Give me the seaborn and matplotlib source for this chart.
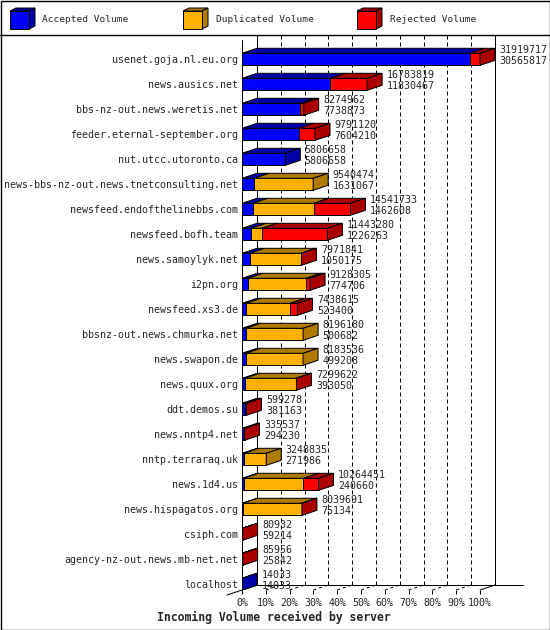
import matplotlib
matplotlib.use("Agg")
import matplotlib.pyplot as plt
from matplotlib.patches import Polygon, Rectangle
import numpy as np
import pandas as pd
import seaborn as sns

servers = ["usenet.goja.nl.eu.org", "news.ausics.net", "bbs-nz-out.news.weretis.net",
           "feeder.eternal-september.org", "nut.utcc.utoronto.ca",
           "news-bbs-nz-out.news.tnetconsulting.net", "newsfeed.endofthelinebbs.com",
           "newsfeed.bofh.team", "news.samoylyk.net", "i2pn.org", "newsfeed.xs3.de",
           "bbsnz-out.news.chmurka.net", "news.swapon.de", "news.quux.org", "ddt.demos.su",
           "news.nntp4.net", "nntp.terraraq.uk", "news.1d4.us", "news.hispagatos.org",
           "csiph.com", "agency-nz-out.news.mb-net.net", "localhost"]
total = [31919717, 16783819, 8274962, 9791120, 5806658, 9540474, 14541733, 11443280,
         7971841, 9128305, 7438615, 8196180, 8183536, 7299622, 599278, 335537, 3248835,
         10264451, 8039691, 80932, 85956, 14033]
accepted = [30565817, 11830467, 7738873, 7604210, 5806658, 1631067, 1462608, 1226263,
            1050175, 774706, 523400, 500682, 499208, 393050, 381163, 294230, 271986,
            240660, 75134, 59214, 25842, 14033]
duplicated = [0, 0, 0, 0, 0, 7909407, 8150000, 1420000, 6881666, 7813599, 5935215,
              7695498, 7684328, 6856572, 0, 0, 2976849, 8000000, 7924557, 0, 0, 0]
rejected = [1353900, 4953352, 536089, 2186910, 0, 0, 4929125, 8797017, 40000, 540000,
            980000, 0, 0, 50000, 218115, 41307, 0, 2023791, 40000, 21718, 60114, 0]
tick_labels = ["0%", "10%", "20%", "30%", "40%", "50%", "60%", "70%", "80%", "90%", "100%"]
legend_labels = ["Accepted Volume", "Duplicated Volume", "Rejected Volume"]

front_cols = ["#0000FF", "#FFB000", "#FF0000"]
dark_cols = ["#0000A8", "#B07C00", "#AA0000"]

FONT = "DejaVu Sans Mono"
FS = 7.2
LW = 0.72

sns.set_theme(style="white")
plt.rcParams["font.family"] = [FONT]

df = pd.DataFrame({"server": servers, "acc": accepted, "dup": duplicated, "rej": rejected,
                   "total": total})
df["c1"] = df["acc"]
df["c2"] = df["acc"] + df["dup"]
df["c3"] = df["acc"] + df["dup"] + df["rej"]

vmax = max(total)

fig = plt.figure(figsize=(5.5, 6.3), dpi=100)
fig.patch.set_facecolor("white")

# overlay axes in pixel coordinates
ov = fig.add_axes([0, 0, 1, 1], zorder=0)
ov.set_xlim(0, 550)
ov.set_ylim(630, 0)
ov.axis("off")
ov.add_patch(Rectangle((0.5, 0.5), 549, 629, fill=False, ec="black", lw=LW * 1.4))
ov.plot([0, 550], [35, 35], color="black", lw=LW * 1.4)

# legend cubes
leg_x = [10, 183, 357]
text_x = [42, 216, 390]
for k in range(3):
    x0 = leg_x[k]
    ov.add_patch(Polygon([(x0, 11), (x0 + 19, 11), (x0 + 25, 8), (x0 + 6, 8)],
                         closed=True, fc=dark_cols[k], ec="black", lw=LW))
    ov.add_patch(Polygon([(x0 + 19, 11), (x0 + 25, 8), (x0 + 25, 26), (x0 + 19, 29)],
                         closed=True, fc=dark_cols[k], ec="black", lw=LW))
    ov.add_patch(Rectangle((x0, 11), 19, 18, fc=front_cols[k], ec="black", lw=LW))
    ov.text(text_x[k], 20, legend_labels[k], fontsize=FS * 0.95, family=FONT,
            ha="left", va="center")

ov.text(274, 617, "Incoming Volume received by server", fontsize=8.3, family=FONT,
        weight="bold", ha="center", va="center")

# main axes
left_px, right_px, top_px, bot_px = 242, 523, 35, 590
ax = fig.add_axes([left_px / 550, (630 - bot_px) / 630, (right_px - left_px) / 550,
                   (bot_px - top_px) / 630], zorder=1)
ax.set_facecolor("none")

def px_x(p):
    return (p - 242) * vmax / 238.0

def px_y(p):
    return (p - 59.3) / 25.0

dx = 15 * vmax / 238.0
dy = 0.2
half = 0.24

# stacked front faces (overlay drawing)
for col, c in [("c3", front_cols[2]), ("c2", front_cols[1]), ("c1", front_cols[0])]:
    sns.barplot(data=df, x=col, y="server", order=servers, orient="h", color=c,
                saturation=1, width=2 * half, edgecolor="black", linewidth=LW,
                errorbar=None, ax=ax, zorder=2)

ax.set_xlim(0, px_x(right_px))
ax.set_ylim(px_y(bot_px), px_y(top_px))

# top and side faces
for i, row in df.iterrows():
    bounds = [0, row["c1"], row["c2"], row["c3"]]
    yt = i - half
    yb = i + half
    last = None
    for k in range(3):
        a, b = bounds[k], bounds[k + 1]
        if b - a <= 0:
            continue
        last = k
        ax.add_patch(Polygon([(a, yt), (b, yt), (b + dx, yt - dy), (a + dx, yt - dy)],
                             closed=True, fc=dark_cols[k], ec="black", lw=LW, zorder=3))
    c3 = bounds[3]
    ax.add_patch(Polygon([(c3, yt), (c3, yb), (c3 + dx, yb - dy), (c3 + dx, yt - dy)],
                         closed=True, fc=dark_cols[last], ec="black", lw=LW, zorder=3))
    tx = c3 + px_x(242 + 19.5)
    ax.text(tx, i - 0.36, str(row["total"]), fontsize=FS, family=FONT, ha="left",
            va="center", zorder=4)
    ax.text(tx, i + 0.06, str(row["acc"]), fontsize=FS, family=FONT, ha="left",
            va="center", zorder=4)

# back wall and grid
y_top_back = px_y(35)
y_floor_back = px_y(585)
y_floor_front = px_y(590)
for k in range(1, 10):
    xb = k * vmax / 10 + dx
    ax.plot([xb, xb], [y_top_back, y_floor_back], color="black", lw=LW,
            linestyle=(0, (4, 3)), zorder=1, clip_on=False)
    ax.plot([k * vmax / 10, xb], [y_floor_front, y_floor_back], color="black", lw=LW,
            linestyle=(0, (3, 3)), zorder=1, clip_on=False)
ax.plot([vmax, vmax + dx], [y_floor_front, y_floor_back], color="black", lw=LW,
        zorder=1, clip_on=False)
ax.plot([dx, dx], [y_top_back, y_floor_back], color="black", lw=LW, zorder=1, clip_on=False)
ax.plot([vmax + dx, vmax + dx], [y_top_back, y_floor_back], color="black", lw=LW,
        zorder=1, clip_on=False)
ax.plot([0, 0], [px_y(40), y_floor_front], color="black", lw=LW, zorder=5, clip_on=False)
ax.plot([dx, px_x(523)], [y_floor_back, y_floor_back], color="black", lw=LW, zorder=1,
        clip_on=False)
ax.plot([px_x(227), dx], [px_y(595), y_floor_back], color="black", lw=LW, zorder=1,
        clip_on=False)

for s in ax.spines.values():
    s.set_visible(False)

ax.set_xticks([k * vmax / 10 for k in range(11)])
ax.set_xticklabels(tick_labels, fontsize=FS, family=FONT)
ax.tick_params(axis="x", direction="out", length=2.9, width=LW, color="black", pad=2.6,
               bottom=True)
ax.tick_params(axis="y", length=0, pad=2.9, labelsize=FS)
for t in ax.get_yticklabels():
    t.set_family(FONT)
ax.set_xlabel("")
ax.set_ylabel("")
ax.grid(False)

fig.savefig("out.png", dpi=100, facecolor="white")
